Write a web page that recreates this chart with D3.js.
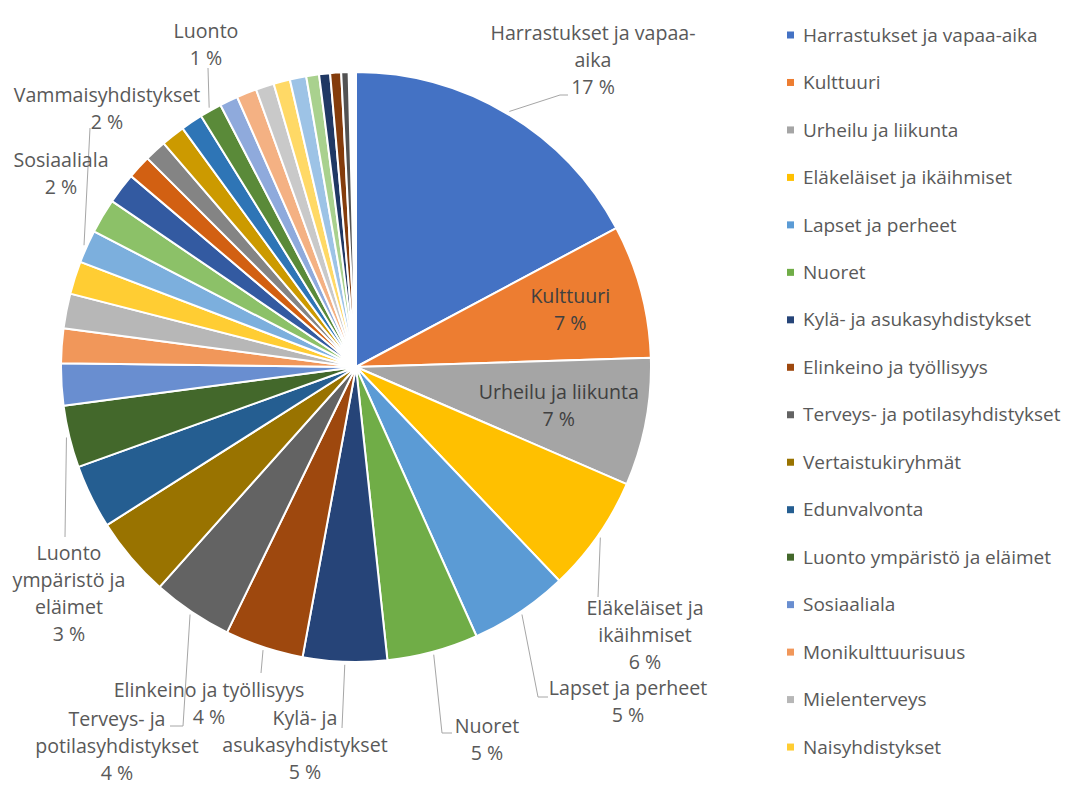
<!DOCTYPE html>
<html><head><meta charset="utf-8">
<script src="https://cdn.jsdelivr.net/npm/d3@7"></script>
<style>
html,body{margin:0;padding:0;background:#fff;}
svg{display:block;}
text{font-family:"Open Sans","Noto Sans",sans-serif;}
</style></head>
<body>
<svg id="chart" width="1069" height="787"></svg>
<script>
// ---- data (percent shares, clockwise from 12 o'clock) ----
const categories = [
  "Harrastukset ja vapaa-aika","Kulttuuri","Urheilu ja liikunta","Eläkeläiset ja ikäihmiset",
  "Lapset ja perheet","Nuoret","Kylä- ja asukasyhdistykset","Elinkeino ja työllisyys",
  "Terveys- ja potilasyhdistykset","Vertaistukiryhmät","Edunvalvonta","Luonto ympäristö ja eläimet",
  "Sosiaaliala","Monikulttuurisuus","Mielenterveys","Naisyhdistykset",
  "Vammaisyhdistykset","Luokka 18","Luokka 19","Luokka 20","Luokka 21","Luokka 22","Luokka 23",
  "Luonto","Luokka 25","Luokka 26","Luokka 27","Luokka 28","Luokka 29","Luokka 30",
  "Luokka 31","Luokka 32","Luokka 33"
];
const values = [
  17.2, 7.3, 7.0, 6.4, 5.4, 5.0, 4.6, 4.3, 4.4, 4.4, 3.5, 3.4,
  2.3, 1.9, 1.9, 1.8, 1.8, 1.9, 1.7, 1.3, 1.2, 1.3, 1.2, 1.2,
  1.0, 1.1, 1.0, 0.9, 0.9, 0.7, 0.6, 0.6, 0.4
];
const colors = [
  "#4472C4","#ED7D31","#A5A5A5","#FFC000","#5B9BD5","#70AD47",
  "#264478","#9E480E","#636363","#997300","#255E91","#43682B",
  "#698ED0","#F1975A","#B7B7B7","#FFCD33","#7CAFDD","#8CC168",
  "#335AA1","#D26012","#848484","#CC9A00","#2E75B6","#5A8A39",
  "#8FAADC","#F4B183","#C9C9C9","#FFD966","#9DC3E6","#A9D18E",
  "#203864","#843C0C","#525252"
];
const legendCount = 16;   // legend shows the first 16 categories

// data labels: which slice, text lines (percent appended), block centre, leader path
const dataLabels = [
  {i:0,  lines:["Harrastukset ja vapaa-","aika"], x:593, y:60,  leader:[[560,95],[568,95]]},
  {i:1,  lines:["Kulttuuri"], inside:0.752},
  {i:2,  lines:["Urheilu ja liikunta"], inside:0.70},
  {i:3,  lines:["Eläkeläiset ja","ikäihmiset"], x:645, y:635, leader:[[598,597]]},
  {i:4,  lines:["Lapset ja perheet"], x:628, y:701.5, leader:[[538,697],[548,697]]},
  {i:5,  lines:["Nuoret"], x:487, y:740, leader:[[442,733],[452,733]]},
  {i:6,  lines:["Kylä- ja","asukasyhdistykset"], x:305, y:745, leader:[[342,728]]},
  {i:7,  lines:["Elinkeino ja työllisyys"], x:209, y:703.5, leader:[[261,673]]},
  {i:8,  lines:["Terveys- ja","potilasyhdistykset"], x:117, y:746, leader:[[183,726],[170,726]]},
  {i:11, lines:["Luonto","ympäristö ja","eläimet"], x:69, y:594, leader:[[65,537]]},
  {i:12, lines:["Sosiaaliala"], x:61, y:174},
  {i:16, lines:["Vammaisyhdistykset"], x:107, y:108.5, leader:[[90,128]]},
  {i:23, lines:["Luonto"], x:206, y:44.5, leader:[[208,68]]}
];

// ---- layout ----
const cx = 356, cy = 367, R = 295;
const lineH = 27;
const svg = d3.select("#chart");
const g = svg.append("g").attr("transform", `translate(${cx},${cy})`);

const data = categories.map((c,i)=>({name:c, v:values[i], color:colors[i]}));
const total = d3.sum(values);
const pie = d3.pie().sort(null).value(d=>d.v)
  .startAngle(0).endAngle(2*Math.PI*total/100);
const arcs = pie(data);
const arc = d3.arc().innerRadius(0).outerRadius(R);

g.selectAll("path.slice").data(arcs).join("path")
  .attr("class","slice")
  .attr("d", arc)
  .attr("fill", d=>d.data.color)
  .attr("stroke","#fff")
  .attr("stroke-width",2)
  .attr("stroke-linejoin","round");

const polar = (a, r) => [cx + r*Math.sin(a), cy - r*Math.cos(a)];

// leader lines
dataLabels.filter(l=>l.leader).forEach(l=>{
  const a = arcs[l.i];
  const mid = (a.startAngle + a.endAngle)/2;
  const pts = [polar(mid, R+3), ...l.leader];
  svg.append("path")
    .attr("d", d3.line()(pts))
    .attr("fill","none")
    .attr("stroke","#a6a6a6")
    .attr("stroke-width",1);
});

// label texts
dataLabels.forEach(l=>{
  const a = arcs[l.i];
  let x = l.x, y = l.y, fill = "#595959";
  if (l.inside) {
    const mid = (a.startAngle + a.endAngle)/2;
    [x, y] = polar(mid, R*l.inside);
    fill = "#404040";
  }
  const lines = [...l.lines, Math.round(a.data.v) + " %"];
  const y0 = y - (lines.length-1)*lineH/2;
  const t = svg.append("text")
    .attr("text-anchor","middle")
    .attr("fill", fill)
    .style("font-size","19.6px");
  lines.forEach((s,k)=>{
    t.append("tspan").attr("x", x).attr("y", y0 + k*lineH).attr("dy","0.35em").text(s);
  });
});

// legend
const legend = svg.append("g").attr("transform","translate(787,35)");
const legendStep = 47.47;
const items = legend.selectAll("g").data(data.slice(0, legendCount)).join("g")
  .attr("transform",(d,i)=>`translate(0,${i*legendStep})`);
items.append("rect").attr("x",0).attr("y",-3.5).attr("width",7).attr("height",7)
  .attr("fill", d=>d.color);
items.append("text").attr("x",16).attr("y",0).attr("dy","0.35em")
  .attr("fill","#595959").style("font-size","19px")
  .text(d=>d.name);
</script>
</body></html>
